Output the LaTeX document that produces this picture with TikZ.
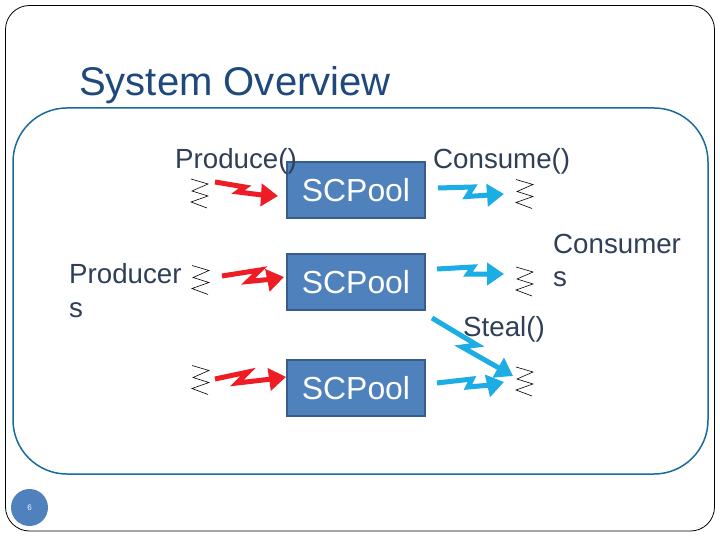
\documentclass[tikz,border=0pt]{standalone}
\usepackage{fontspec}
\setmainfont{Liberation Sans}
\usetikzlibrary{arrows.meta}
\definecolor{titleblue}{HTML}{1F497D}
\definecolor{labelblue}{HTML}{2F3F58}
\definecolor{boxfill}{HTML}{4F81BD}
\definecolor{boxedge}{HTML}{385D8A}
\definecolor{panel}{HTML}{1B6A9C}
\definecolor{boltred}{HTML}{EE1C25}
\definecolor{boltblue}{HTML}{1BADE3}
\newcommand{\pxfont}[2]{\fontsize{#1}{#2}\selectfont}
\tikzset{
  x=1bp,y=-1bp,
  poolbox/.style={draw=boxedge,line width=2bp,fill=boxfill,minimum width=138bp,minimum height=56bp,inner sep=0pt,font=\pxfont{32}{32},text=white},
  lbl/.style={inner sep=0pt,font=\pxfont{27.8}{34},text=labelblue,align=left},
  spring/.style={black,line width=0.6bp},
  redbolt/.style={draw=boltred,line width=5bp,miter limit=10,-{Triangle[length=17bp,width=22bp,fill=boltred]}},
  bluebolt/.style={draw=boltblue,line width=5bp,miter limit=10,-{Triangle[length=17bp,width=22bp,fill=boltblue]}},
  pics/coil/.style={code={\draw[spring] (0,0)--(17,5)--(1,12)--(17,17)--(0,23)--(16,29);}}
}
\begin{document}
\begin{tikzpicture}
\useasboundingbox (0,0) rectangle (720,540);
\fill[white] (0,0) rectangle (720,540);
\draw[black,line width=0.8bp,rounded corners=24bp] (5.5,5.5) rectangle (714.5,531);
\node[inner sep=0pt,anchor=base west,font=\pxfont{40.2}{40},text=titleblue] (title) at (79,96) {System Overview};
\draw[panel,line width=1.5bp,rounded corners=54bp] (13,108) rectangle (708,474);
\node[circle,fill=boxfill,minimum size=37bp,inner sep=0pt,text=white,font=\pxfont{8}{8}] (pagenum) at (29.5,507.5) {6};

\node[poolbox] (p1) at (356,190.5) {SCPool};
\node[poolbox] (p2) at (356,282) {SCPool};
\node[poolbox] (p3) at (356,388) {SCPool};

\node[lbl,anchor=base west] (produce) at (175,169) {Produce()};
\node[lbl,anchor=base west] (consume) at (433,169) {Consume()};
\node[lbl,anchor=base west] (producers) at (69,317) {Producer\\s};
\node[lbl,anchor=base west] (consumers) at (553,287) {Consumer\\s};
\node[lbl,anchor=base west] (steal) at (463,336) {Steal()};

\pic at (191,179) {coil};
\pic at (192,265.5) {coil};
\pic at (192,365.5) {coil};
\pic at (516,179.5) {coil};
\pic at (516,267) {coil};
\pic at (516,367) {coil};

\coordinate (r1) at (215,182); \coordinate (r1e) at (278,196);
\coordinate (r2) at (222,276); \coordinate (r2e) at (284,277);
\coordinate (r3) at (215,379); \coordinate (r3e) at (286,377);
\draw[redbolt] (r1)--(245,187)--(238,192)--(262,195)--(r1e);
\draw[redbolt] (r2)--(260,270)--(248,281.5)--(274,279)--(r2e);
\draw[redbolt] (r3)--(248,372)--(237,383)--(272,379)--(r3e);

\coordinate (b1) at (438,188); \coordinate (b1e) at (504,194);
\coordinate (b2) at (437,269); \coordinate (b2e) at (504,274);
\coordinate (b3) at (437,383); \coordinate (b3e) at (504,382);
\draw[bluebolt] (b1)--(473,187)--(467,196.5)--(490,195)--(b1e);
\draw[bluebolt] (b2)--(473,267)--(468,274)--(490,274)--(b2e);
\draw[bluebolt] (b3)--(472,379)--(468,387)--(491,385)--(b3e);

\coordinate (s1) at (432,318); \coordinate (s1e) at (513,376);
\draw[bluebolt] (s1)--(477,345)--(462,347)--(s1e);
\end{tikzpicture}
\end{document}
